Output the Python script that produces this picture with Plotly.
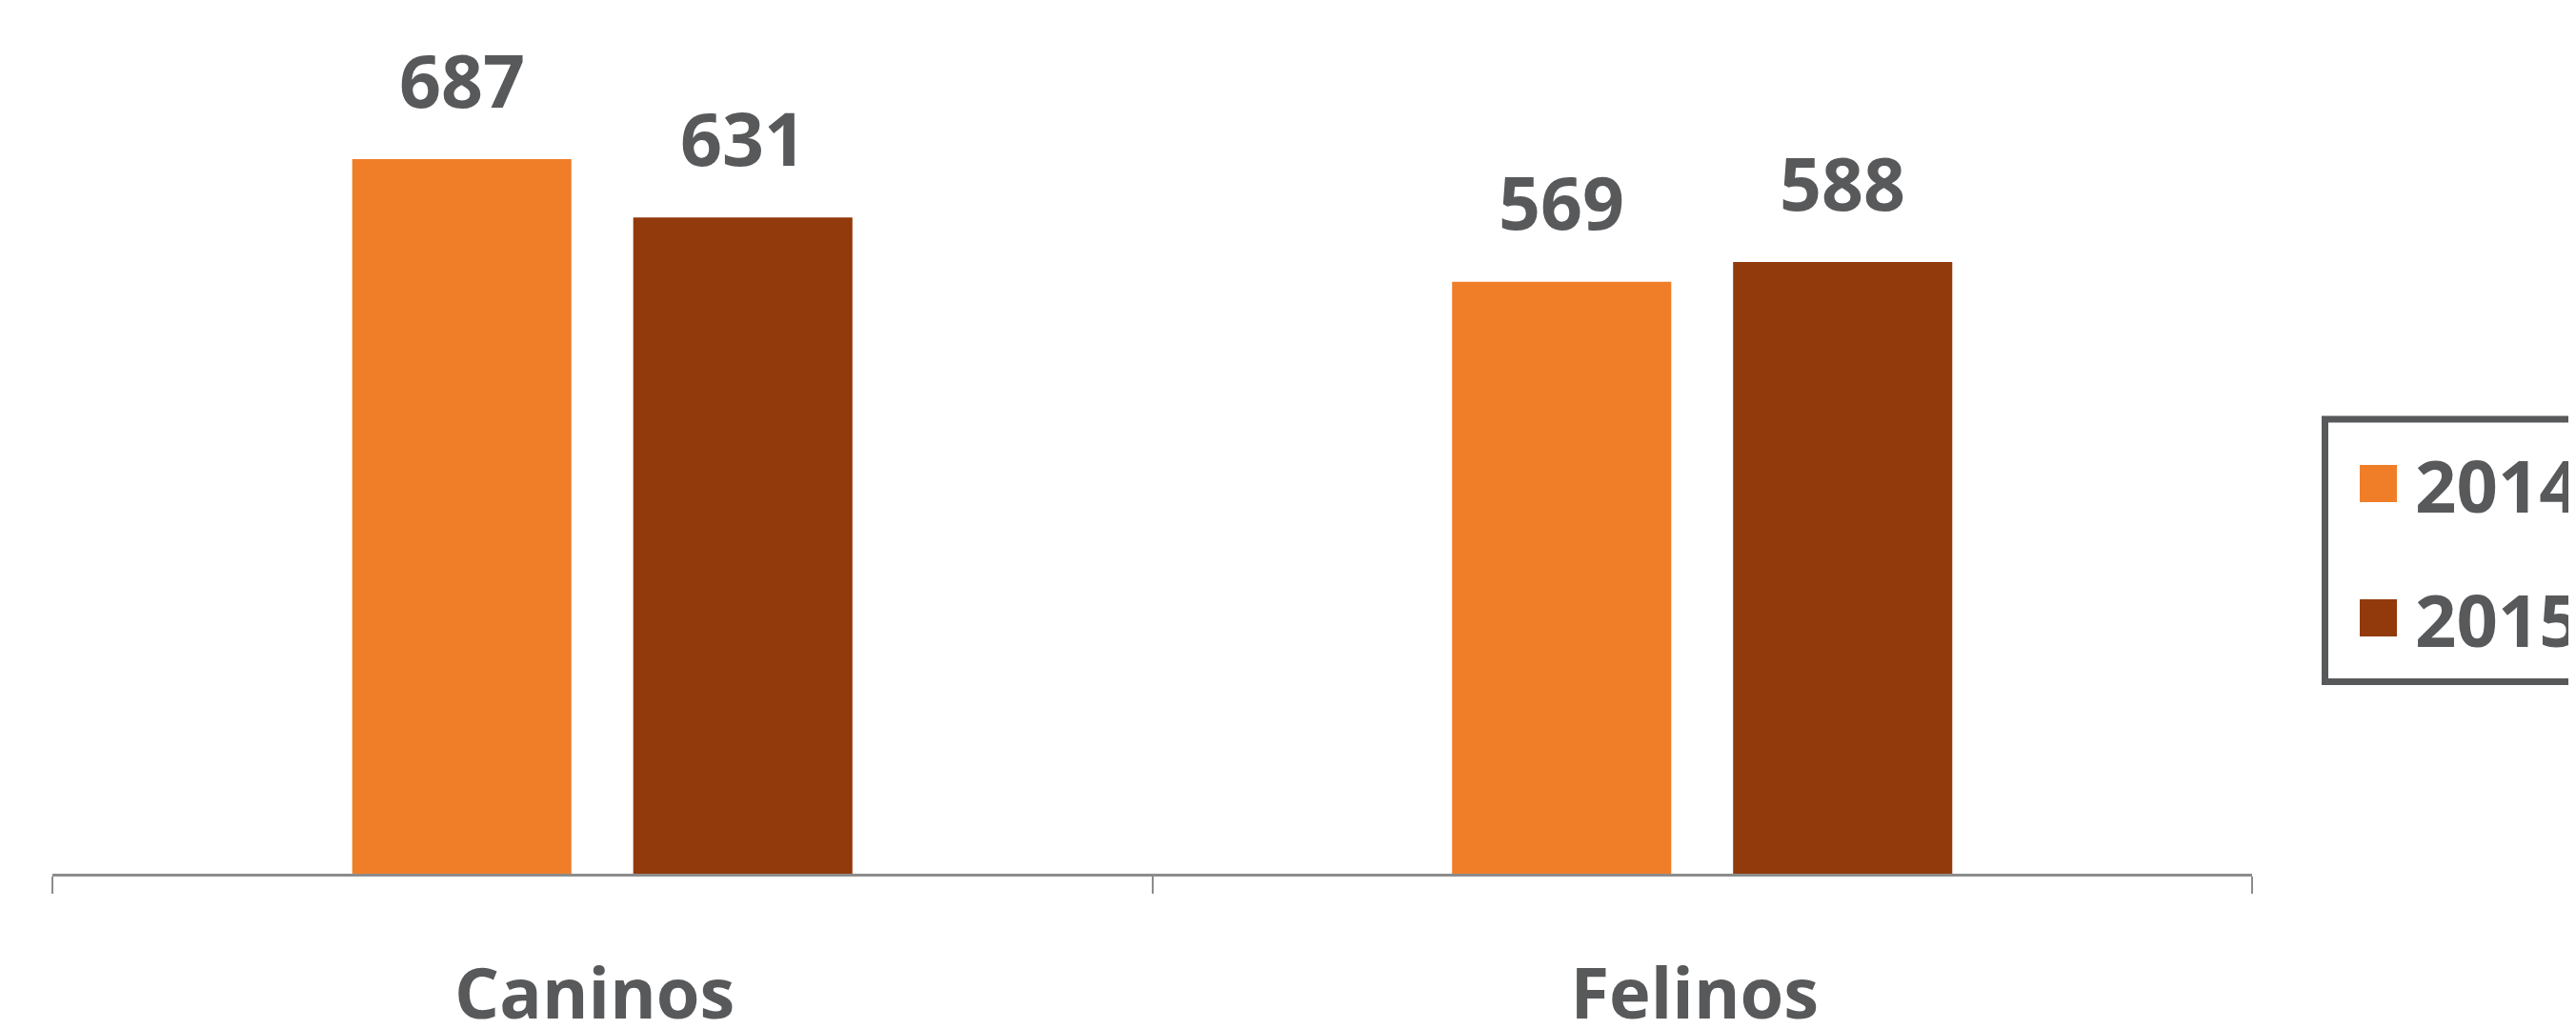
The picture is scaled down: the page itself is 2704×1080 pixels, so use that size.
import plotly.graph_objects as go

categories = ["Caninos", "Felinos"]
series_names = ["2014", "2015"]
values_2014 = [687, 569]
values_2015 = [631, 588]
colors = ["#F07E28", "#923A0B"]

W, H = 2704, 1080
OFF = 8  # page body margin offset
ML, MR, MT, MB = 55 - OFF, 340 + OFF, 20 - OFF, 163 + OFF
TXT = "#58595B"
FONT = "Open Sans"

bargap = 0.489
bargroupgap = 0.22
slot = (1 - bargap) / 2
offsets = [-slot / 2, slot / 2]

fig = go.Figure()
series = [values_2014, values_2015]
for name, vals, col in zip(series_names, series, colors):
    fig.add_trace(go.Bar(x=categories, y=vals, name=name, marker_color=col,
                         marker_line_width=0, showlegend=False))

# value labels
for si, vals in enumerate(series):
    for ci, v in enumerate(vals):
        fig.add_annotation(x=ci + offsets[si], y=v, xref="x", yref="y",
                           text=str(v), showarrow=False, yanchor="middle",
                           yshift=84,
                           font=dict(family=FONT, size=77, color=TXT, weight=700))

pw = W - ML - MR
ph = H - MT - MB
def px_x(p):
    return (p - OFF - ML) / pw
def px_y(p):
    return (H - MB - (p - OFF)) / ph

# manual legend
fig.add_shape(type="rect", xref="paper", yref="paper",
              x0=px_x(2440.5), x1=px_x(2770), y0=px_y(440), y1=px_y(715.5),
              line=dict(color=TXT, width=7), fillcolor="white", layer="above")
sw_tops = [488, 629]
for name, col, top in zip(series_names, colors, sw_tops):
    fig.add_shape(type="rect", xref="paper", yref="paper",
                  x0=px_x(2477), x1=px_x(2516), y0=px_y(top), y1=px_y(top + 39),
                  line_width=0, fillcolor=col, layer="above")
    fig.add_annotation(xref="paper", yref="paper", x=px_x(2533), y=px_y(top + 20),
                       xanchor="left", yanchor="middle", text=name, showarrow=False,
                       font=dict(family=FONT, size=76, color=TXT, weight=700))

fig.update_layout(
    width=W, height=H,
    margin=dict(l=ML, r=MR, t=MT, b=MB, autoexpand=False),
    barmode="group", bargap=bargap, bargroupgap=bargroupgap,
    plot_bgcolor="white", paper_bgcolor="white",
    showlegend=False,
)
fig.update_xaxes(type="category", range=[-0.5, 1.5], showline=True,
                 linecolor="#8C8C8C", linewidth=3, ticks="outside",
                 tickson="boundaries", ticklen=18, tickwidth=2, tickcolor="#8C8C8C",
                 showgrid=False, ticklabelstandoff=60, ticklabelshift=-8,
                 tickfont=dict(family=FONT, size=74, color=TXT, weight=700))
fig.update_yaxes(range=[0, ph / 1.0917], visible=False, showgrid=False)

fig.write_html("out.html")
